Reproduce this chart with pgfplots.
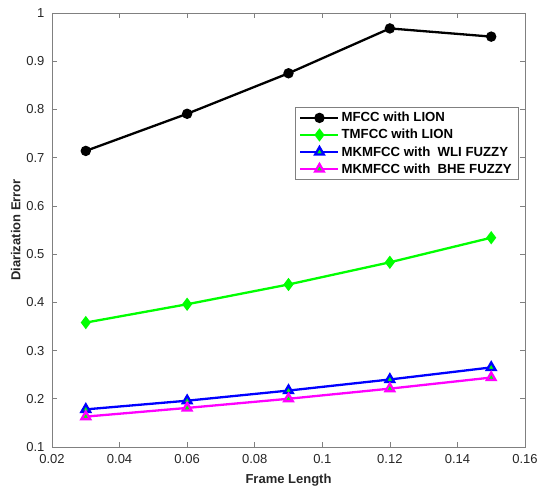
\documentclass[border=0pt]{standalone}
\usepackage{pgfplots}
\pgfplotsset{compat=1.18}
\usepackage{fontspec}
\setmainfont{Liberation Sans}
\definecolor{axgray}{RGB}{128,128,128}
\definecolor{txgray}{RGB}{38,38,38}
\definecolor{mygreen}{RGB}{0,255,0}
\definecolor{mymag}{RGB}{255,0,255}
\definecolor{myblue}{RGB}{0,0,255}
\begin{document}
\begin{tikzpicture}
\begin{axis}[
  name=ax,
  scale only axis,
  width=473pt, height=434pt,
  xmin=0.02, xmax=0.16, ymin=0.1, ymax=1,
  xtick={0.02,0.04,...,0.161},
  ytick={0.1,0.2,...,1.01},
  xticklabels={0.02,0.04,0.06,0.08,0.1,0.12,0.14,0.16},
  yticklabels={0.1,0.2,0.3,0.4,0.5,0.6,0.7,0.8,0.9,1},
  tick align=inside,
  major tick length=5pt,
  axis line style={axgray, line width=0.7pt},
  every tick/.style={axgray, line width=0.7pt},
  ticklabel style={font=\fontsize{13}{13}\selectfont, text=txgray},
  xticklabel style={yshift=-4pt},
  yticklabel style={xshift=-4pt},
  xlabel={\textbf{Frame Length}},
  ylabel={\textbf{Diarization Error}},
  label style={font=\fontsize{13}{13}\selectfont, text=txgray},
  xlabel style={yshift=-3pt},
  ylabel style={yshift=-1pt},
  legend style={at={(0.514,0.783)}, anchor=north west, draw=axgray, fill=white,
    font=\fontsize{13.2}{14}\selectfont\bfseries, row sep=2pt, inner xsep=4pt, inner ysep=3pt},
  legend cell align=left,
  legend image code/.code={\draw[mark repeat=2,mark phase=2] plot coordinates {(0pt,0pt)(19pt,0pt)(38pt,0pt)};},
]
\addplot[black, line width=2.3pt, mark=*, mark size=4pt] coordinates {
(0.03,0.714) (0.06,0.791) (0.09,0.875) (0.12,0.968) (0.15,0.951)};
\addlegendentry{MFCC with LION}
\addplot[mygreen, line width=2.3pt, mark=diamond*, mark size=4.8pt] coordinates {
(0.03,0.358) (0.06,0.396) (0.09,0.437) (0.12,0.483) (0.15,0.534)};
\addlegendentry{TMFCC with LION}
\addplot[myblue, line width=2.3pt, mark=triangle*, mark size=5pt, mark options={fill=mygreen, draw=myblue, line width=2.3pt}] coordinates {
(0.03,0.178) (0.06,0.196) (0.09,0.217) (0.12,0.240) (0.15,0.265)};
\addlegendentry{MKMFCC with\ \ WLI FUZZY}
\addplot[mymag, line width=2.3pt, mark=triangle*, mark size=5pt, mark options={fill=mygreen, draw=mymag, line width=2.3pt}] coordinates {
(0.03,0.163) (0.06,0.181) (0.09,0.200) (0.12,0.221) (0.15,0.244)};
\addlegendentry{MKMFCC with\ \ BHE FUZZY}
\end{axis}
\pgfresetboundingbox
\path ([shift={(-52pt,-42pt)}]ax.south west) rectangle ([shift={(16pt,13pt)}]ax.north east);
\end{tikzpicture}
\end{document}
